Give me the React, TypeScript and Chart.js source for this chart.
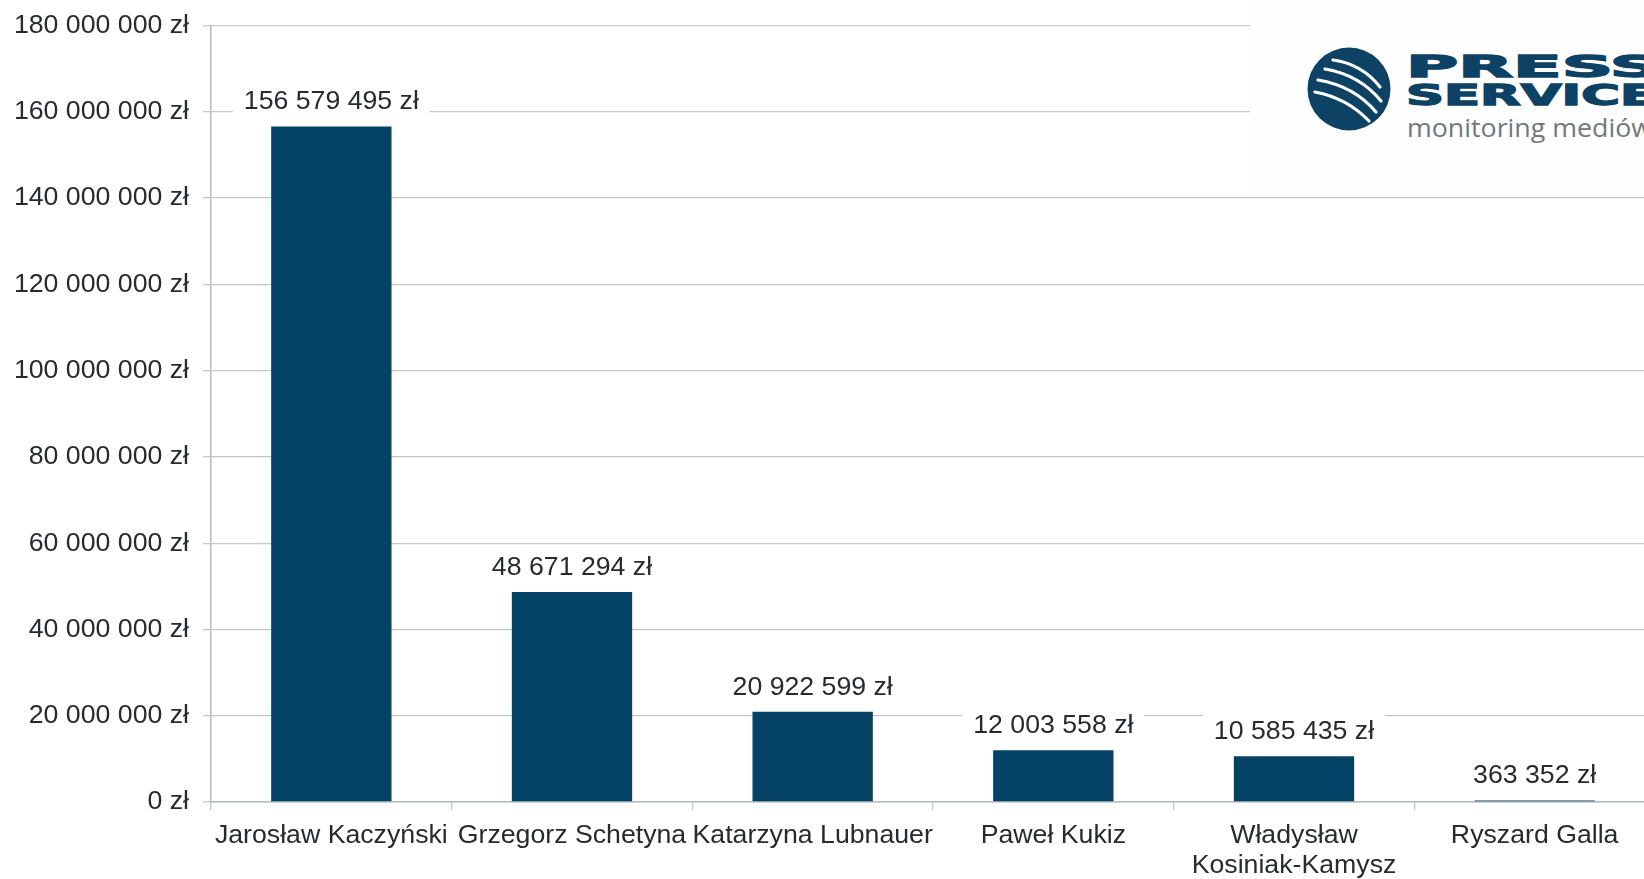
import React, { useEffect, useRef } from "react";
import { Chart, registerables } from "chart.js";

Chart.register(...registerables);

const categories: (string | string[])[] = [
  "Jarosław Kaczyński",
  "Grzegorz Schetyna",
  "Katarzyna Lubnauer",
  "Paweł Kukiz",
  ["Władysław", "Kosiniak-Kamysz"],
  "Ryszard Galla",
];
const values: number[] = [156579495, 48671294, 20922599, 12003558, 10585435, 363352];
const yMin = 0;
const yMax = 180000000;
const yStep = 20000000;

const FONT = "'Liberation Sans', Arial, sans-serif";
const FONT_SIZE = 26.7;
const TEXT_COLOR = "#282a2d";
const BAR_COLOR = "#034264";
const GRID_COLOR = "#c3c7cb";

const fmt = (v: number) =>
  String(Math.round(v)).replace(/\B(?=(\d{3})+(?!\d))/g, " ") + " zł";

const labelPlugin = {
  id: "barLabels",
  afterDatasetsDraw(chart: any) {
    const ctx = chart.ctx;
    const meta = chart.getDatasetMeta(0);
    ctx.save();
    ctx.font = `${FONT_SIZE}px ${FONT}`;
    ctx.textAlign = "center";
    ctx.textBaseline = "middle";
    meta.data.forEach((el: any, i: number) => {
      const text = fmt(values[i]);
      const w = ctx.measureText(text).width;
      const cx = el.x;
      const cy = el.y - 24.5;
      ctx.fillStyle = "#ffffff";
      ctx.fillRect(cx - w / 2 - 11, cy - 17, w + 22, 33);
      ctx.fillStyle = TEXT_COLOR;
      ctx.fillText(text, cx, cy);
    });
    ctx.restore();
  },
};

function Logo() {
  return (
    <svg
      width={394}
      height={195}
      style={{ position: "absolute", left: 1250, top: 0, background: "#fefefe" }}
    >
      <circle cx={99} cy={89} r={41.5} fill="#0d4264" />
      <g stroke="#ffffff" strokeWidth={3.2} fill="none" strokeLinecap="round">
        <path d="M 83 60 Q 112 64 130 87" />
        <path d="M 75 69 Q 110 75 131 101" />
        <path d="M 68 80 Q 104 86 126 112" />
        <path d="M 65 92 Q 97 98 119 121" />
      </g>
      <text
        x={156}
        y={77}
        fontFamily="'DejaVu Sans', sans-serif"
        fontWeight="bold"
        fontSize={30}
        fill="#0d4264"
        stroke="#0d4264"
        strokeWidth={1.4}
        textLength={255}
        lengthAdjust="spacingAndGlyphs"
      >
        PRESS
      </text>
      <text
        x={156}
        y={105}
        fontFamily="'DejaVu Sans', sans-serif"
        fontWeight="bold"
        fontSize={28.5}
        fill="#0d4264"
        stroke="#0d4264"
        strokeWidth={1.4}
        textLength={250}
        lengthAdjust="spacingAndGlyphs"
      >
        SERVICE
      </text>
      <text
        x={157}
        y={137}
        fontFamily="'Open Sans', sans-serif"
        fontSize={25}
        fill="#73777b"
        textLength={245}
        lengthAdjust="spacingAndGlyphs"
      >
        monitoring mediów
      </text>
    </svg>
  );
}

export default function App() {
  const ref = useRef<HTMLCanvasElement | null>(null);

  useEffect(() => {
    if (!ref.current) return;
    const chart = new Chart(ref.current, {
      type: "bar",
      data: {
        labels: categories,
        datasets: [
          {
            data: values,
            backgroundColor: BAR_COLOR,
            categoryPercentage: 1,
            barPercentage: 0.5,
          },
        ],
      },
      options: {
        animation: false,
        responsive: true,
        maintainAspectRatio: false,
        layout: { padding: { top: 25.5, right: 0, bottom: 0, left: 0 } },
        plugins: {
          legend: { display: false },
          tooltip: { enabled: false },
        },
        scales: {
          x: {
            offset: true,
            grid: {
              display: true,
              offset: true,
              drawOnChartArea: false,
              drawTicks: true,
              tickLength: 8,
              color: GRID_COLOR,
              lineWidth: 1.3,
            },
            border: { display: true, color: "#b6babe", width: 1.5 },
            ticks: {
              color: TEXT_COLOR,
              font: { family: FONT, size: FONT_SIZE, lineHeight: 1.11 },
              padding: 11,
              maxRotation: 0,
              autoSkip: false,
            },
            afterFit(scale: any) {
              scale.height = 77;
              scale.paddingLeft = 0;
              scale.paddingRight = 0;
            },
          },
          y: {
            min: yMin,
            max: yMax,
            grid: {
              color: GRID_COLOR,
              lineWidth: 1.3,
              tickLength: 8,
            },
            border: { display: true, color: "#b6babe", width: 1.5 },
            ticks: {
              stepSize: yStep,
              color: TEXT_COLOR,
              font: { family: FONT, size: FONT_SIZE },
              padding: 14,
              callback: (v: any) => fmt(Number(v)),
            },
            afterFit(scale: any) {
              scale.width = 211;
              scale.paddingTop = 0;
              scale.paddingBottom = 0;
            },
          },
        },
      },
      plugins: [labelPlugin],
    });
    return () => chart.destroy();
  }, []);

  return (
    <div
      style={{
        position: "fixed",
        left: 0,
        top: 0,
        width: 1644,
        height: 879,
        overflow: "hidden",
        background: "#ffffff",
      }}
    >
      <div style={{ position: "absolute", left: 0, top: 0, width: 1655, height: 879 }}>
        <canvas ref={ref} />
      </div>
      <Logo />
    </div>
  );
}
